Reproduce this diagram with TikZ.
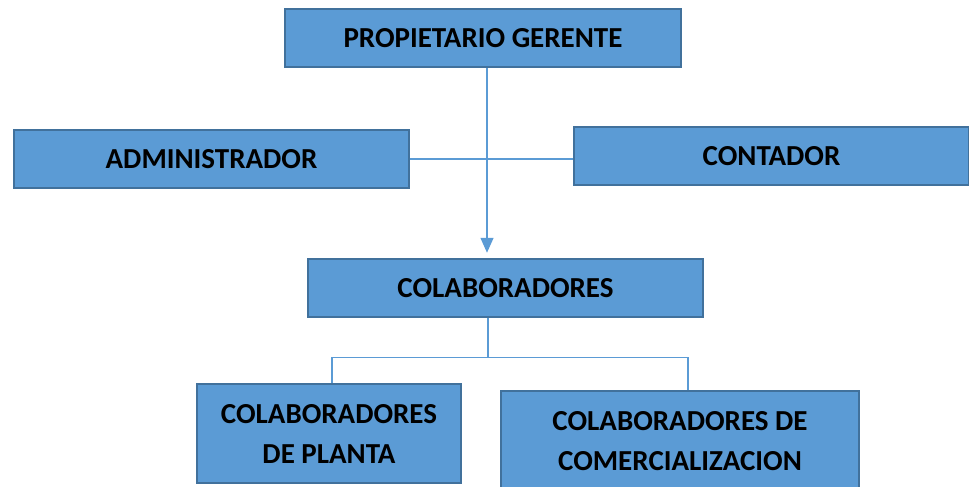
\documentclass[tikz,border=0pt]{standalone}
\usepackage{fontspec}
\setmainfont{Carlito}
\usetikzlibrary{arrows.meta}
\definecolor{boxfill}{HTML}{5B9BD5}
\definecolor{boxline}{HTML}{41719C}

\begin{document}
\begin{tikzpicture}[x=1pt,y=-1pt,
  font=\fontsize{29}{40}\selectfont\bfseries,
  puesto/.style={draw=boxline,line width=2.5pt,fill=boxfill,inner sep=0pt,
    align=center,minimum height=58},
  enlace/.style={draw=boxfill,line width=1.5pt}]
\useasboundingbox (0,0) rectangle (969,487);
% cargos
\node[puesto,minimum width=396] (gerente) at (483,38) {PROPIETARIO GERENTE};
\node[puesto,minimum width=395] (admin) at (211.5,159) {ADMINISTRADOR};
\node[puesto,minimum width=395] (contador) at (771.5,156) {CONTADOR};
\node[puesto,minimum width=395] (colab) at (505.5,288) {COLABORADORES};
\node[puesto,minimum width=264,minimum height=99] (planta) at (329,433.5)
  {COLABORADORES\\DE PLANTA};
\node[puesto,minimum width=358,minimum height=100] (comerc) at (680,441)
  {COLABORADORES DE\\COMERCIALIZACION};
% lineas
\draw[enlace] (admin.east) -- (admin.east -| contador.west);
\draw[enlace,-{Triangle[width=13pt,length=15pt]},shorten >=5pt]
  ([xshift=4]gerente.south) -- ([xshift=4]gerente.south |- colab.north);
\draw[enlace] ([xshift=-17.5]colab.south) -- ++(0,39) coordinate (reparto);
\draw[enlace] ([xshift=3]planta.north) |- (reparto) -| ([xshift=8]comerc.north);
\end{tikzpicture}
\end{document}
